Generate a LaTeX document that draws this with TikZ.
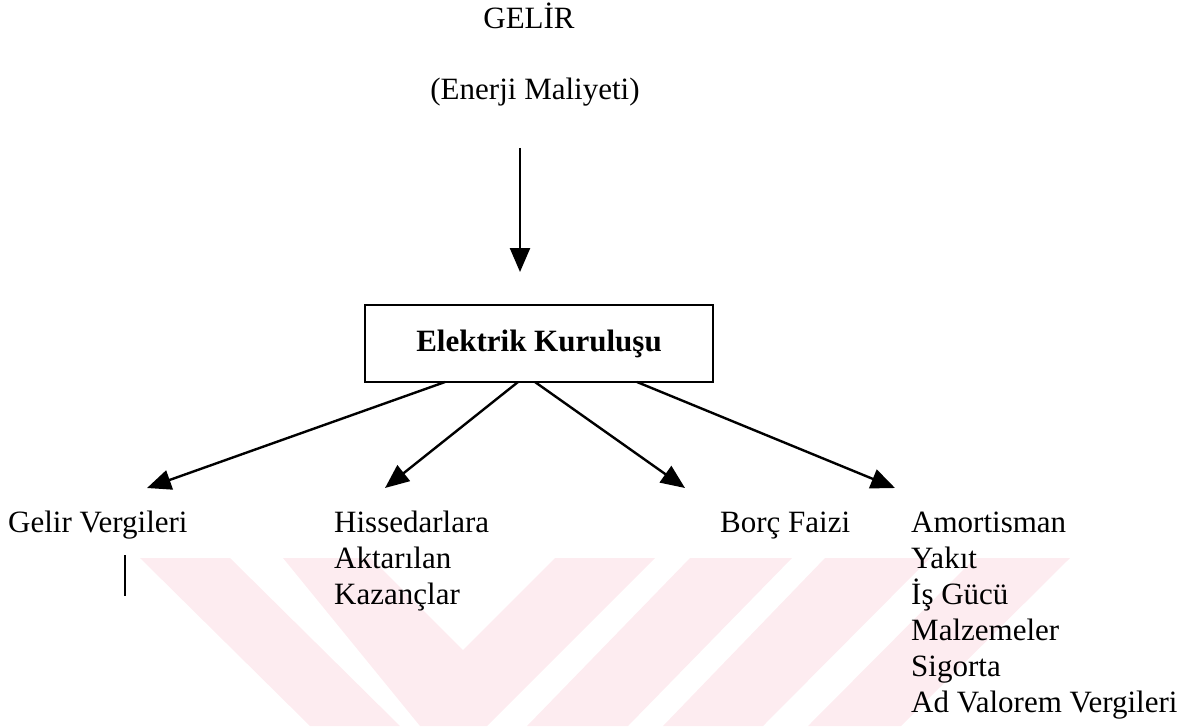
\documentclass[tikz,border=0pt]{standalone}
\usepackage{fontspec}
\setmainfont{Liberation Serif}
\usetikzlibrary{arrows.meta,calc}
\definecolor{wmpink}{RGB}{253,236,240}
\begin{document}
\begin{tikzpicture}[x=1pt,y=-1pt,
  lbl/.style={inner sep=0pt, font=\fontsize{31}{36}\selectfont},
  list/.style={lbl, anchor=base west},
  arr/.style={line width=2.4pt, -{Triangle[length=24pt,width=20pt]}},
  box/.style={draw, line width=2.4pt, inner sep=0pt, outer sep=0pt,
    minimum width=348pt, minimum height=77pt,
    font=\fontsize{31}{36}\selectfont\bfseries},
  wm/.style={fill=wmpink, draw=none},
  tick/.style={line width=1.4pt}]
\useasboundingbox (0,0) rectangle (1197,726);

% faint watermark stripes along the bottom
\fill[wm] (140,558) -- (230,558) -- (400,726) -- (310,726) -- cycle;
\fill[wm] (283,558) -- (371,558) -- (463,650) -- (555,558) -- (655,558)
          -- (487,726) -- (420,726) -- cycle;
\fill[wm] (690,558) -- (792,558) -- (628,726) -- (527,726) -- cycle;
\fill[wm] (825,558) -- (930,558) -- (763,726) -- (663,726) -- cycle;
\fill[wm] (975,558) -- (1070,558) -- (901,726) -- (808,726) -- cycle;

% headings
\node[lbl, anchor=base] (gelir) at (529,28) {GELİR};
\node[lbl, anchor=base] (em) at (535,99) {(Enerji Maliyeti)};

% central box
\node[box] (box) at (539,343.5) {Elektrik Kuruluşu};

% outputs
\node[list] (gv) at (8,532) {Gelir Vergileri};
\node[list] (hs) at (334,532) {\begin{tabular}[t]{@{}l@{}}Hissedarlara\\Aktarılan\\Kazançlar\end{tabular}};
\node[list] (bf) at (720,532) {Borç Faizi};
\node[list] (am) at (911,532) {\begin{tabular}[t]{@{}l@{}}Amortisman\\Yakıt\\İş Gücü\\Malzemeler\\Sigorta\\Ad Valorem Vergileri\end{tabular}};

% connectors
\draw[arr] ([shift={(-15pt,-42pt)}]em.south) -- ([shift={(-19pt,33pt)}]box.north);
\draw[arr] ([xshift=80pt]box.south west) -- ([shift={(139pt,44pt)}]gv.base west);
\draw[arr] ([xshift=153pt]box.south west) -- ([shift={(51pt,44pt)}]hs.base west);
\draw[arr] ([xshift=170pt]box.south west) -- ([shift={(-35pt,44pt)}]bf.base west);
\draw[arr] ([xshift=272pt]box.south west) -- ([shift={(-16pt,44pt)}]am.base west);

% short stroke below the first output
\draw[tick] ([shift={(117pt,-23pt)}]gv.base west) -- ([shift={(117pt,-64pt)}]gv.base west);
\end{tikzpicture}
\end{document}
